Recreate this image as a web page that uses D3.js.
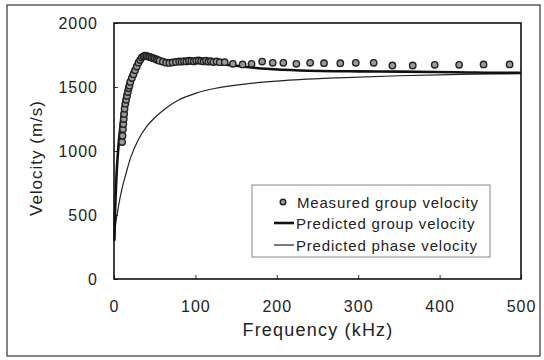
<!DOCTYPE html>
<html><head><meta charset="utf-8">
<script src="https://cdn.jsdelivr.net/npm/d3@7"></script>
<style>body{margin:0;background:#fff}svg{display:block}text{font-family:"Liberation Sans",Arial,sans-serif;fill:#222}</style>
</head><body><svg id="c" width="544" height="360"></svg>
<script>
// Predicted group velocity (kHz, m/s)
const groupF = [0.5,1,2,3,5,8,12,16,20,25,30,35,40,50,65,85,106,146,187,228,300,351,420,494,500];
const groupV = [300,450,650,800,1000,1200,1400,1510,1590,1660,1710,1740,1748,1730,1707,1697,1689,1668,1642,1629,1622,1620,1615,1610,1610];
// Predicted phase velocity
const phaseF = [0.5,1,2,4,7,10,15,20,30,40,50,65,80,100,125,150,187,228,275,350,425,500];
const phaseV = [300,360,430,510,620,710,830,940,1090,1190,1260,1340,1400,1450,1490,1515,1540,1558,1572,1588,1598,1606];
// Measured group velocity
const measF = [10,10.5,11,11.5,12,12.5,13,14,15,16,17,18,19,20,22,24,26,28,30,32,34,36,38,40,42,44,46,48,50,52,54,56,60,64,68,72,76,80,83,86,89,92,95,98,101,104,107,110,113,116,119,122,126,130,136,146,158,169,182,195,208,224,241,258,278,297,319,342,367,394,424,454,486];
const measV = [1070,1120,1170,1210,1250,1290,1330,1370,1400,1430,1460,1490,1510,1540,1570,1600,1630,1660,1690,1710,1730,1740,1745,1742,1738,1735,1730,1725,1722,1715,1710,1705,1698,1690,1688,1692,1696,1700,1698,1702,1700,1706,1703,1700,1706,1708,1703,1700,1705,1698,1702,1695,1700,1694,1694,1681,1676,1681,1699,1689,1689,1681,1689,1686,1686,1689,1689,1668,1668,1673,1673,1676,1676];
const xTicks = [0,100,200,300,400,500];
const yTicks = [0,500,1000,1500,2000];
const legendLabels = ["Measured group velocity","Predicted group velocity","Predicted phase velocity"];

const svg = d3.select("#c");
svg.append("rect").attr("width",544).attr("height",360).attr("fill","#fff");
svg.append("rect").attr("x",7).attr("y",5).attr("width",533).attr("height",351)
  .attr("fill","none").attr("stroke","#333").attr("stroke-width",1.2);

const L=114,R=521,T=23,B=279;
const x = d3.scaleLinear().domain([0,500]).range([L,R]);
const y = d3.scaleLinear().domain([0,2000]).range([B,T]);
const fmt = d3.format("d");

const g = svg.append("g");
const xa = g.append("g").attr("transform",`translate(0,${B})`)
  .call(d3.axisBottom(x).tickValues(xTicks).tickFormat(fmt).tickSize(-4).tickPadding(22));
const ya = g.append("g").attr("transform",`translate(${L},0)`)
  .call(d3.axisLeft(y).tickValues(yTicks).tickFormat(fmt).tickSize(-4).tickPadding(16));
[xa,ya].forEach(a=>{
  a.select(".domain").remove();
  a.selectAll("line").attr("stroke","#333");
  a.selectAll("text").style("font-size","16px").style("letter-spacing","1px").attr("fill","#222")
   .style("font-family",'"Liberation Sans",Arial,sans-serif');
});
g.append("rect").attr("x",L).attr("y",T).attr("width",R-L).attr("height",B-T)
  .attr("fill","none").attr("stroke","#111").attr("stroke-width",1.6);

const line = d3.line().x(d=>x(d[0])).y(d=>y(d[1])).curve(d3.curveMonotoneX);
g.append("path").datum(phaseF.map((f,i)=>[f,phaseV[i]])).attr("d",line)
  .attr("fill","none").attr("stroke","#222").attr("stroke-width",1.2);
g.append("path").datum(groupF.map((f,i)=>[f,groupV[i]])).attr("d",line)
  .attr("fill","none").attr("stroke","#111").attr("stroke-width",2.6);
g.selectAll("circle.m").data(measF.map((f,i)=>[f,measV[i]])).enter().append("circle")
  .attr("class","m").attr("cx",d=>x(d[0])).attr("cy",d=>y(d[1])).attr("r",3.2)
  .attr("fill","#9a9a9a").attr("stroke","#222").attr("stroke-width",1.4);

svg.append("text").attr("x",318).attr("y",336).attr("text-anchor","middle")
  .style("font-size","18px").style("letter-spacing","1.2px").text("Frequency (kHz)");
svg.append("text").attr("transform","translate(42,158) rotate(-90)").attr("text-anchor","middle")
  .style("font-size","17px").style("letter-spacing","1px").text("Velocity (m/s)");

const lg = svg.append("g");
lg.append("rect").attr("x",252).attr("y",185).attr("width",238).attr("height",72)
  .attr("fill","#fff").attr("stroke","#888").attr("stroke-width",1);
const rows=[202,223,245];
lg.append("circle").attr("cx",283).attr("cy",rows[0]).attr("r",2.8)
  .attr("fill","#9a9a9a").attr("stroke","#222").attr("stroke-width",1.4);
lg.append("line").attr("x1",274).attr("x2",294).attr("y1",rows[1]).attr("y2",rows[1])
  .attr("stroke","#111").attr("stroke-width",2.6);
lg.append("line").attr("x1",274).attr("x2",294).attr("y1",rows[2]).attr("y2",rows[2])
  .attr("stroke","#222").attr("stroke-width",1.2);
legendLabels.forEach((t,i)=>{
  lg.append("text").attr("x",i===0?297:296).attr("y",rows[i]+5.5)
    .style("font-size","15px").style("letter-spacing","0.8px").text(t);
});
</script></body></html>
